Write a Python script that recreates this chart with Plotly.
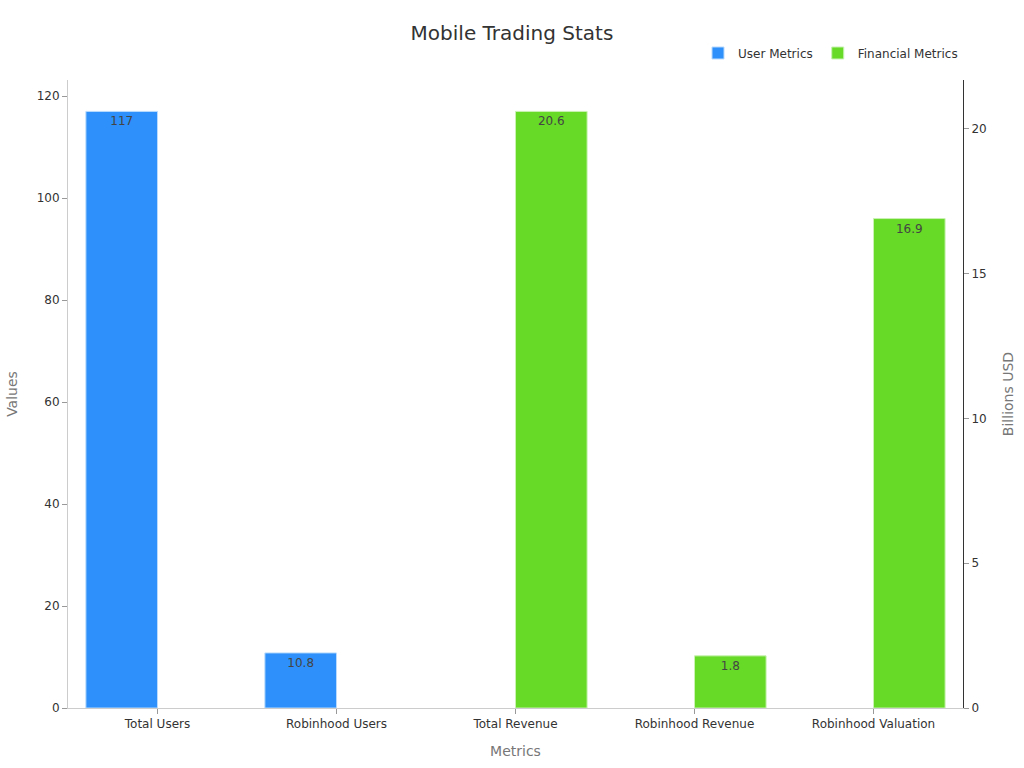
import plotly.graph_objects as go

categories = ["Total Users", "Robinhood Users", "Total Revenue", "Robinhood Revenue", "Robinhood Valuation"]
user_cats = ["Total Users", "Robinhood Users"]
user_vals = [117, 10.8]
fin_cats = ["Total Revenue", "Robinhood Revenue", "Robinhood Valuation"]
fin_vals = [20.6, 1.8, 16.9]

FONT = "DejaVu Sans"

fig = go.Figure()
fig.add_trace(go.Bar(
    name="User Metrics", x=user_cats, y=user_vals, offsetgroup="1", yaxis="y",
    marker=dict(color="#2E90FA", line=dict(color="#B9DAFD", width=1)),
    text=[str(v) for v in user_vals], textposition="inside", insidetextanchor="end",
    textfont=dict(color="#444444", size=12, family=FONT),
))
fig.add_trace(go.Bar(
    name="Financial Metrics", x=fin_cats, y=fin_vals, offsetgroup="2", yaxis="y2",
    marker=dict(color="#66DA26", line=dict(color="#C9F2B3", width=1)),
    text=[str(v) for v in fin_vals], textposition="inside", insidetextanchor="end",
    textfont=dict(color="#444444", size=12, family=FONT),
))

fig.update_layout(
    width=1024, height=768,
    paper_bgcolor="white", plot_bgcolor="white",
    font=dict(family=FONT, size=12, color="#333333"),
    title=dict(text="Mobile Trading Stats", x=0.5, xanchor="center", y=0.957, yanchor="middle",
               font=dict(size=20, color="#333333", family=FONT)),
    margin=dict(l=68, r=61, t=80, b=60),
    barmode="group", bargap=0.2, bargroupgap=0,
    showlegend=True,
    legend=dict(orientation="h", x=1.0, xanchor="right", y=1.043, yanchor="middle",
                font=dict(size=12, color="#333333"), bgcolor="rgba(0,0,0,0)"),
    xaxis=dict(categoryorder="array", categoryarray=categories,
               title=dict(text="Metrics", font=dict(size=14, color="#777777"), standoff=15),
               showline=True, linecolor="#CCCCCC", ticks="outside", ticklen=5, tickcolor="#999999",
               showgrid=False, tickfont=dict(size=12, color="#333333")),
    yaxis=dict(title=dict(text="Values", font=dict(size=14, color="#777777"), standoff=15),
               showline=True, linecolor="#CCCCCC", ticks="outside", ticklen=5, tickcolor="#999999",
               showgrid=False, zeroline=False, rangemode="tozero", tickfont=dict(size=12, color="#333333")),
    yaxis2=dict(title=dict(text="Billions USD", font=dict(size=14, color="#777777"), standoff=17),
                overlaying="y", side="right",
                showline=True, linecolor="#333333", ticks="outside", ticklen=5, tickcolor="#999999",
                showgrid=False, zeroline=False, rangemode="tozero", tickfont=dict(size=12, color="#333333")),
)

fig.write_html("out.html", config={"displayModeBar": False},
               post_script="document.body.style.margin='0px';")
